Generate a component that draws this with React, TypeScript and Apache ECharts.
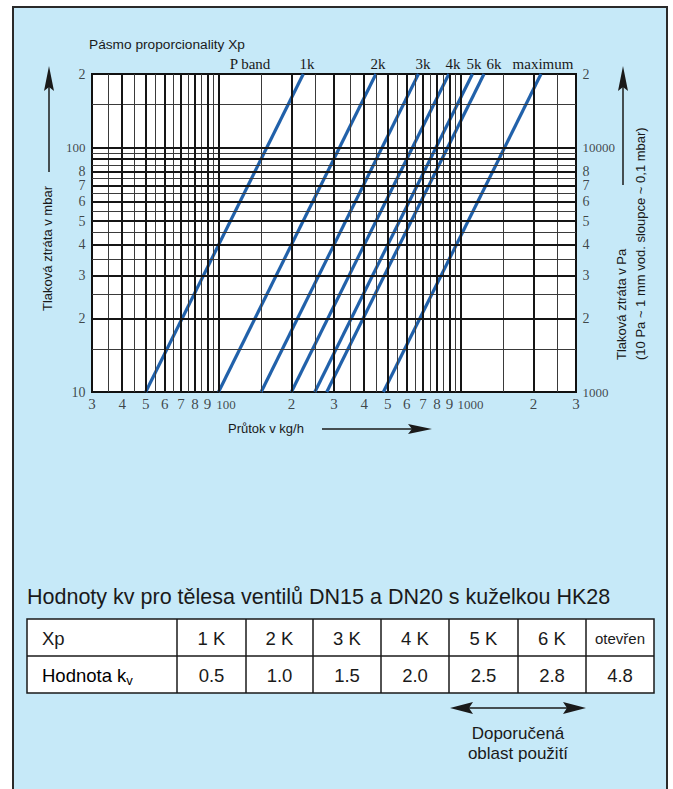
import React, { useEffect, useRef } from "react";
import * as echarts from "echarts";

// ---- axis ticks ----
const xTickValues = [30, 40, 50, 60, 70, 80, 90, 100, 200, 300, 400, 500, 600, 700, 800, 900, 1000, 2000, 3000];
const xTickLabels = ["3", "4", "5", "6", "7", "8", "9", "100", "2", "3", "4", "5", "6", "7", "8", "9", "1000", "2", "3"];
const yTickValues = [10, 20, 30, 40, 50, 60, 70, 80, 100, 200];
const yTickLabels = ["10", "2", "3", "4", "5", "6", "7", "8", "100", "2"];
const paTickValues = [1000, 2000, 3000, 4000, 5000, 6000, 7000, 8000, 10000, 20000];
const paTickLabels = ["1000", "2", "3", "4", "5", "6", "7", "8", "10000", "2"];

// ---- grid lines (values) ----
const xMajorGrid = [40, 50, 60, 70, 80, 90, 100, 200, 300, 400, 500, 600, 700, 800, 900, 1000, 2000];
const xMinorGrid = [35, 45, 55, 65, 75, 85, 95, 150, 250, 350, 450, 550, 650, 750, 850, 950, 1500, 2500];
const yMajorGrid = [20, 30, 40, 50, 60, 70, 80, 90, 100];
const yMinorGrid = [15, 25, 35, 45, 55, 65, 75, 85, 95, 150];

// ---- proportional band lines (flow kg/h at 10 mbar and at 200 mbar) ----
const bandNames = ["1k", "2k", "3k", "4k", "5k", "6k", "maximum"];
const dpLow = 10;
const dpHigh = 200;
const flowAtLow = [50, 100, 150, 200, 250, 280, 480];
const flowAtHigh = [224, 447, 670, 895, 1120, 1250, 2150];

// ---- table ----
const tableTitle = "Hodnoty kv pro tělesa ventilů DN15 a DN20 s kuželkou HK28";
const xpLabels = ["1 K", "2 K", "3 K", "4 K", "5 K", "6 K", "otevřen"];
const kvValues = ["0.5", "1.0", "1.5", "2.0", "2.5", "2.8", "4.8"];

const SANS = "'Liberation Sans', Arial, sans-serif";
const SERIF = "'Liberation Serif', 'Times New Roman', serif";
const INK = "#1a1a1a";
const BLUE = "#2161aa";

export default function App() {
  const ref = useRef<HTMLDivElement>(null);

  useEffect(() => {
    if (!ref.current) return;
    const chart = echarts.init(ref.current, null, { renderer: "svg" });

    const gridLine = (axis: "xAxis" | "yAxis", v: number, major: boolean) => ({
      [axis]: v,
      lineStyle: { color: major ? "#151515" : "#3a3a3a", width: major ? 2 : 1, type: "solid" },
    });

    const labelSeries = (
      values: number[],
      labels: string[],
      fixed: number,
      isX: boolean,
      position: string,
      yAxisIndex = 0
    ) => ({
      type: "scatter",
      yAxisIndex,
      symbolSize: 1,
      clip: false,
      silent: true,
      itemStyle: { color: "rgba(0,0,0,0)" },
      z: 5,
      data: values.map((v, i) => {
        const t = labels[i];
        const long = t.length > 2;
        return {
          value: isX ? [v, fixed] : [fixed, v],
          name: t,
          label: {
            fontSize: long ? 13 : isX ? 15 : 14,
            offset: isX && long ? [t.length * 2.5, 1] : [0, 0],
          },
        };
      }),
      label: {
        show: true,
        position,
        distance: isX ? 4 : 6,
        formatter: "{b}",
        fontFamily: SERIF,
        color: INK,
      },
    });

    const colStarts = [27, 177, 246, 313, 381, 449, 518, 586, 654];
    const tableTop = 619;
    const tableMid = 656;
    const tableBottom = 693;

    const tableGraphics: any[] = [
      {
        type: "rect",
        shape: { x: 27, y: tableTop, width: 627, height: tableBottom - tableTop },
        style: { fill: "#fff", stroke: INK, lineWidth: 1.5 },
      },
      {
        type: "line",
        shape: { x1: 27, y1: tableMid, x2: 654, y2: tableMid },
        style: { stroke: INK, lineWidth: 1.5 },
      },
    ];
    colStarts.slice(1, -1).forEach((cx) => {
      tableGraphics.push({
        type: "line",
        shape: { x1: cx, y1: tableTop, x2: cx, y2: tableBottom },
        style: { stroke: INK, lineWidth: 1.5 },
      });
    });
    tableGraphics.push({
      type: "text",
      x: 42,
      y: 638,
      style: { text: "Xp", font: `18.5px ${SANS}`, fill: INK, verticalAlign: "middle" },
    });
    tableGraphics.push({
      type: "text",
      x: 42,
      y: 675,
      style: {
        text: "{n|Hodnota k}{s|v}",
        verticalAlign: "middle",
        rich: {
          n: { fontSize: 18.5, fontFamily: SANS, color: INK, lineHeight: 24, verticalAlign: "middle" },
          s: { fontSize: 13, fontFamily: SANS, color: INK, lineHeight: 14, verticalAlign: "bottom" },
        },
      },
    });
    xpLabels.forEach((t, i) => {
      const cx = (colStarts[i + 1] + colStarts[i + 2]) / 2;
      tableGraphics.push({
        type: "text",
        x: cx,
        y: 638,
        style: {
          text: t,
          font: `${t.length > 4 ? 15 : 18.5}px ${SANS}`,
          fill: INK,
          align: "center",
          verticalAlign: "middle",
        },
      });
      tableGraphics.push({
        type: "text",
        x: cx,
        y: 675,
        style: { text: kvValues[i], font: `18.5px ${SANS}`, fill: INK, align: "center", verticalAlign: "middle" },
      });
    });

    const topLabelX = [250, 307, 378, 423, 453, 474, 494, 543];
    const topLabels = ["P band", ...bandNames];

    const option: any = {
      animation: false,
      backgroundColor: "transparent",
      grid: {
        left: 92,
        top: 74,
        width: 484,
        height: 318,
        show: true,
        backgroundColor: "#ffffff",
        borderColor: "#111",
        borderWidth: 2,
        z: 0,
      },
      xAxis: {
        type: "log",
        logBase: 10,
        min: 30,
        max: 3000,
        axisLine: { show: false },
        axisTick: { show: false },
        axisLabel: { show: false },
        splitLine: { show: false },
      },
      yAxis: [
        {
          type: "log",
          logBase: 10,
          min: 10,
          max: 200,
          axisLine: { show: false },
          axisTick: { show: false },
          axisLabel: { show: false },
          splitLine: { show: false },
        },
        {
          type: "log",
          logBase: 10,
          min: 1000,
          max: 20000,
          position: "right",
          axisLine: { show: false },
          axisTick: { show: false },
          axisLabel: { show: false },
          splitLine: { show: false },
        },
      ],
      series: [
        {
          type: "line",
          data: [[30, 10]],
          showSymbol: false,
          lineStyle: { width: 0 },
          silent: true,
          z: 1,
          markLine: {
            symbol: "none",
            silent: true,
            animation: false,
            label: { show: false },
            emphasis: { disabled: true },
            data: [
              ...xMinorGrid.map((v) => gridLine("xAxis", v, false)),
              ...yMinorGrid.map((v) => gridLine("yAxis", v, false)),
              ...xMajorGrid.map((v) => gridLine("xAxis", v, true)),
              ...yMajorGrid.map((v) => gridLine("yAxis", v, true)),
            ],
          },
        },
        ...bandNames.map((name, i) => ({
          type: "line",
          name,
          data: [
            [flowAtLow[i], dpLow],
            [flowAtHigh[i], dpHigh],
          ],
          showSymbol: false,
          silent: true,
          clip: true,
          lineStyle: { color: BLUE, width: 3.2 },
          z: 3,
        })),
        labelSeries(xTickValues, xTickLabels, 10, true, "bottom"),
        labelSeries(yTickValues, yTickLabels, 30, false, "left"),
        labelSeries(paTickValues, paTickLabels, 3000, false, "right", 1),
      ],
      graphic: [
        {
          type: "text",
          x: 89,
          y: 44,
          style: { text: "Pásmo proporcionality Xp", font: `13.7px ${SANS}`, fill: INK, verticalAlign: "middle" },
        },
        ...topLabels.map((t, i) => ({
          type: "text",
          x: topLabelX[i],
          y: 64,
          style: { text: t, font: `15px ${SERIF}`, fill: INK, align: "center", verticalAlign: "middle" },
        })),
        // left axis title + arrow
        {
          type: "line",
          shape: { x1: 49, y1: 172, x2: 49, y2: 86 },
          style: { stroke: INK, lineWidth: 1.5 },
        },
        {
          type: "polygon",
          shape: { points: [[49, 66], [44, 91], [49, 87], [54, 91]] },
          style: { fill: INK },
        },
        {
          type: "text",
          x: 47,
          y: 311,
          rotation: Math.PI / 2,
          style: { text: "Tlaková ztráta v mbar", font: `13px ${SANS}`, fill: INK, align: "left", verticalAlign: "middle" },
        },
        // right axis title + arrow
        {
          type: "line",
          shape: { x1: 623, y1: 185, x2: 623, y2: 86 },
          style: { stroke: INK, lineWidth: 1.5 },
        },
        {
          type: "polygon",
          shape: { points: [[623, 66], [618, 91], [623, 87], [628, 91]] },
          style: { fill: INK },
        },
        {
          type: "text",
          x: 621,
          y: 360,
          rotation: Math.PI / 2,
          style: { text: "Tlaková ztráta v Pa", font: `13px ${SANS}`, fill: INK, align: "left", verticalAlign: "middle" },
        },
        {
          type: "text",
          x: 640,
          y: 360,
          rotation: Math.PI / 2,
          style: {
            text: "(10 Pa ~ 1 mm vod. sloupce ~ 0,1 mbar)",
            font: `13px ${SANS}`,
            fill: INK,
            align: "left",
            verticalAlign: "middle",
          },
        },
        // x axis title + arrow
        {
          type: "text",
          x: 228,
          y: 428,
          style: { text: "Průtok v kg/h", font: `13px ${SANS}`, fill: INK, verticalAlign: "middle" },
        },
        {
          type: "line",
          shape: { x1: 322, y1: 429, x2: 414, y2: 429 },
          style: { stroke: INK, lineWidth: 1.5 },
        },
        {
          type: "polygon",
          shape: { points: [[432, 429], [408, 424], [412, 429], [408, 434]] },
          style: { fill: INK },
        },
        // table
        {
          type: "text",
          x: 27,
          y: 597,
          style: { text: tableTitle, font: `21.5px ${SANS}`, fill: INK, verticalAlign: "middle" },
        },
        ...tableGraphics,
        // recommended range
        {
          type: "line",
          shape: { x1: 465, y1: 708, x2: 571, y2: 708 },
          style: { stroke: INK, lineWidth: 1.5 },
        },
        {
          type: "polygon",
          shape: { points: [[450, 708], [473, 702], [469, 708], [473, 714]] },
          style: { fill: INK },
        },
        {
          type: "polygon",
          shape: { points: [[586, 708], [563, 702], [567, 708], [563, 714]] },
          style: { fill: INK },
        },
        {
          type: "text",
          x: 518,
          y: 733,
          style: { text: "Doporučená", font: `17px ${SANS}`, fill: INK, align: "center", verticalAlign: "middle" },
        },
        {
          type: "text",
          x: 518,
          y: 753,
          style: { text: "oblast použití", font: `17px ${SANS}`, fill: INK, align: "center", verticalAlign: "middle" },
        },
      ],
    };

    chart.setOption(option);
    return () => chart.dispose();
  }, []);

  return (
    <div style={{ position: "absolute", left: 0, top: 0, width: 673, height: 789, background: "#fff", overflow: "hidden" }}>
      <div
        style={{
          position: "absolute",
          left: 12,
          top: 6,
          width: 652,
          height: 800,
          border: "2px solid #2a2a2a",
          background: "#c6e9f8",
        }}
      />
      <div ref={ref} style={{ position: "absolute", left: 0, top: 0, width: 673, height: 789 }} />
    </div>
  );
}
